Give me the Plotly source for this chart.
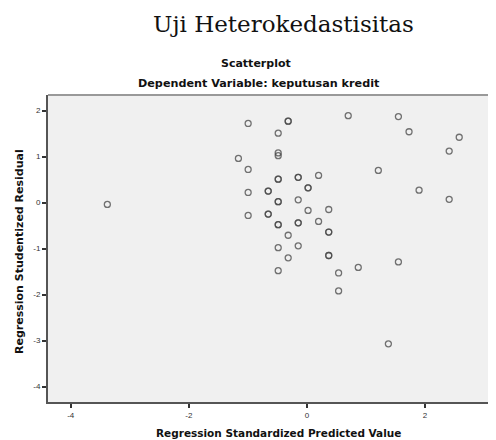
import plotly.graph_objects as go

# Standardized predicted values (x) and studentized residuals (y)
pred = [-0.995, -0.317, -0.317, -0.486, 0.70, 1.55, 1.73, 2.58, 2.41, -0.486, -0.486,
        -1.16, -0.995, 1.21, -0.486, -0.486, -0.147, -0.147, 0.198, 0.02, 0.02,
        -0.655, -0.655, -0.995, 1.90, 2.41, -0.486, -0.486, -0.147, 0.02, 0.37,
        -0.655, -0.655, -0.995, -0.486, -0.486, -0.147, -0.147, 0.198, -0.317,
        0.37, 0.37, -0.486, -0.147, -0.317, 0.37, 0.37, -0.486, 0.537, 0.87,
        1.55, 0.537, 1.38, -3.38]
resid = [1.72, 1.77, 1.77, 1.51, 1.89, 1.87, 1.54, 1.42, 1.12, 1.08, 1.02,
         0.96, 0.72, 0.70, 0.51, 0.51, 0.55, 0.55, 0.59, 0.32, 0.32,
         0.25, 0.25, 0.22, 0.27, 0.07, 0.02, 0.02, 0.06, -0.17, -0.15,
         -0.25, -0.25, -0.28, -0.48, -0.48, -0.44, -0.44, -0.41, -0.71,
         -0.64, -0.64, -0.98, -0.94, -1.20, -1.15, -1.15, -1.48, -1.53, -1.41,
         -1.29, -1.92, -3.07, -0.04]

x_ticks = [-4, -2, 0, 2]
x_tick_labels = ["-4", "-2", "0", "2"]
y_ticks = [2, 1, 0, -1, -2, -3, -4]
y_tick_labels = ["2", "1", "0", "-1", "-2", "-3", "-4"]

main_title = "Uji Heterokedastisitas"
chart_title = "Scatterplot"
subtitle = "Dependent Variable: keputusan kredit"
x_title = "Regression Standardized Predicted Value"
y_title = "Regression Studentized Residual"

fig = go.Figure()
fig.add_trace(go.Scatter(
    x=pred, y=resid, mode="markers",
    marker=dict(symbol="circle-open", size=6, color="rgba(70,70,70,0.75)",
                line=dict(width=1.3, color="rgba(70,70,70,0.75)")),
    hoverinfo="x+y", showlegend=False))

bold_font = "DejaVu Sans, Liberation Sans, Arial"

# page body has an 8px margin; figure is sized so the plot area lands at
# page x 48..496, y 95..402
fig.update_layout(
    width=488, height=432,
    margin=dict(l=40, r=0, t=87, b=38),
    paper_bgcolor="white", plot_bgcolor="#f0f0f0",
    font=dict(family="Liberation Sans, Arial", color="#222"),
    xaxis=dict(range=[-4.385, 3.203], tickvals=x_ticks, ticktext=x_tick_labels,
               showgrid=False, zeroline=False, showline=True, linecolor="#555",
               linewidth=2, ticks="outside", ticklen=4, tickwidth=1.5,
               tickcolor="#333", tickfont=dict(size=8, color="#333")),
    yaxis=dict(range=[-4.335, 2.339], tickvals=y_ticks, ticktext=y_tick_labels,
               showgrid=False, zeroline=False, showline=True, linecolor="#555",
               linewidth=2, ticks="outside", ticklen=4, tickwidth=1.5,
               tickcolor="#333", tickfont=dict(size=8, color="#333")),
    shapes=[dict(type="line", xref="paper", yref="paper", x0=0, x1=1, y0=1, y1=1,
                 line=dict(color="#999", width=2))],
    annotations=[
        dict(text=main_title, xref="paper", yref="paper", x=(283-48)/448, y=1 + (95-24)/307,
             showarrow=False, xanchor="center", yanchor="middle",
             font=dict(family="DejaVu Serif", size=23, color="#111")),
        dict(text="<b>" + chart_title + "</b>", xref="paper", yref="paper",
             x=(256-48)/448, y=1 + (95-64)/307, showarrow=False,
             xanchor="center", yanchor="middle",
             font=dict(family=bold_font, size=11, color="#111")),
        dict(text="<b>" + subtitle + "</b>", xref="paper", yref="paper",
             x=(259-48)/448, y=1 + (95-83)/307, showarrow=False,
             xanchor="center", yanchor="middle",
             font=dict(family=bold_font, size=11.2, color="#111")),
        dict(text="<b>" + x_title + "</b>", xref="paper", yref="paper",
             x=(278-48)/448, y=-(433-402)/307, showarrow=False,
             xanchor="center", yanchor="middle",
             font=dict(family=bold_font, size=10.5, color="#111")),
        dict(text="<b>" + y_title + "</b>", xref="paper", yref="paper",
             x=-(48-19)/448, y=(402-252)/307, showarrow=False, textangle=-90,
             xanchor="center", yanchor="middle",
             font=dict(family=bold_font, size=11, color="#111")),
    ],
)

fig.write_html("out.html")
